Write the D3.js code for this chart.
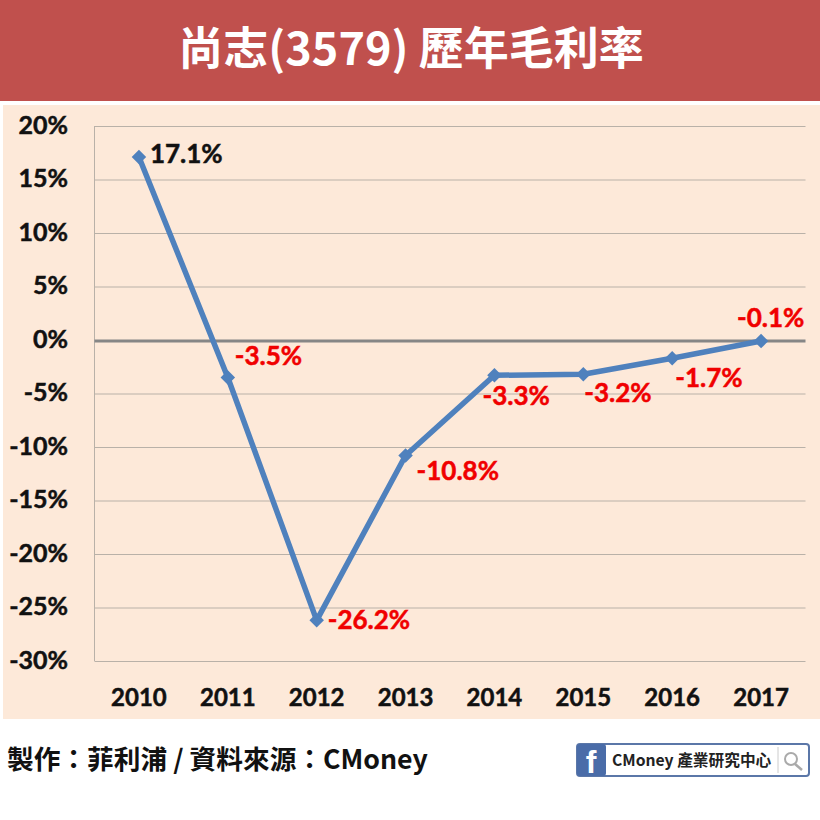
<!DOCTYPE html>
<html><head><meta charset="utf-8">
<script src="https://cdn.jsdelivr.net/npm/d3@7"></script>
<style>html,body{margin:0;padding:0;background:#fff}svg{display:block}</style>
</head><body><svg id="c" width="820" height="820"></svg>
<script>
const titleText = "尚志(3579) 歷年毛利率";
const footerText = "製作：菲利浦 / 資料來源：CMoney";
const badgeText = "CMoney 產業研究中心";
const years = ["2010","2011","2012","2013","2014","2015","2016","2017"];
const margins = [17.1,-3.5,-26.2,-10.8,-3.3,-3.2,-1.7,-0.1];
const yTicks = [20,15,10,5,0,-5,-10,-15,-20,-25,-30];

const labelDx = [11,7,11,11,-12,1,3,-24];
const labelDy = [-1,-19,2,18,23,21,22,-21];

const svg = d3.select("#c");
const latin = "Lato, 'Noto Sans CJK TC', sans-serif";
const cjk = "'Noto Sans CJK TC', sans-serif";

svg.append("rect").attr("x",0).attr("y",0).attr("width",820).attr("height",101).attr("fill","#c0504d");
svg.append("text").attr("x",411).attr("y",65).attr("text-anchor","middle")
  .attr("font-family",cjk).attr("font-weight",700).attr("font-size",45).attr("fill","#fff").text(titleText);

svg.append("rect").attr("x",3).attr("y",105).attr("width",817).attr("height",614).attr("fill","#fde9d9");

const x = d3.scaleBand().domain(years).range([94.5,805.5]);
const y = d3.scaleLinear().domain([-30,20]).range([661,126]);

const grid = svg.append("g");
grid.selectAll("line").data(yTicks.filter(d=>d!==0)).join("line")
  .attr("x1",x.range()[0]).attr("x2",x.range()[1])
  .attr("y1",d=>y(d)+.5).attr("y2",d=>y(d)+.5)
  .attr("stroke","#b9b1a8").attr("stroke-width",1);
grid.append("line").attr("x1",94.5).attr("x2",94.5).attr("y1",y(20)).attr("y2",y(-30))
  .attr("stroke","#b9b1a8");
grid.append("line").attr("x1",x.range()[0]).attr("x2",x.range()[1]).attr("y1",y(0)+1).attr("y2",y(0)+1)
  .attr("stroke","#868686").attr("stroke-width",3);

const heavy = s => s.attr("stroke","#111").attr("stroke-width",0.5);

const yAxis = svg.append("g").attr("transform","translate(68,-1)")
  .call(d3.axisLeft(y).tickValues(yTicks).tickSize(0).tickPadding(0).tickFormat(d=>d+"%"));
yAxis.select(".domain").remove();
yAxis.selectAll("text").attr("font-family",latin).attr("font-weight",700).attr("font-size",25).attr("fill","#111").call(heavy);

const xAxis = svg.append("g").attr("transform","translate(0,688.5)")
  .call(d3.axisBottom(x).tickSize(0).tickPadding(0));
xAxis.select(".domain").remove();
xAxis.selectAll("text").attr("font-family",latin).attr("font-weight",700).attr("font-size",24).attr("fill","#111").call(heavy);

const cx = d=>x(d)+x.bandwidth()/2;
const line = d3.line().x((d,i)=>cx(years[i])).y(d=>y(d));
svg.append("path").datum(margins).attr("d",line).attr("fill","none")
  .attr("stroke","#4f81bd").attr("stroke-width",5.5).attr("stroke-linejoin","round");
svg.append("g").selectAll("path").data(margins).join("path")
  .attr("d",d3.symbol(d3.symbolSquare,105))
  .attr("transform",(d,i)=>`translate(${cx(years[i])},${y(d)}) rotate(45)`)
  .attr("fill","#4f81bd");

svg.append("g").selectAll("text").data(margins).join("text")
  .attr("x",(d,i)=>cx(years[i])+labelDx[i])
  .attr("y",(d,i)=>y(d)+labelDy[i])
  .attr("dominant-baseline","middle")
  .attr("font-family",latin).attr("font-weight",700).attr("font-size",26)
  .attr("fill",d=>d<0?"#f00000":"#111")
  .attr("stroke",d=>d<0?"#f00000":"#111").attr("stroke-width",0.5)
  .text(d=>d.toFixed(1)+"%");

svg.append("text").attr("x",7).attr("y",769)
  .attr("font-family",cjk).attr("font-weight",700).attr("font-size",26.7).attr("fill","#111").text(footerText);

const b = svg.append("g");
b.append("rect").attr("x",577).attr("y",744).attr("width",232).attr("height",32).attr("rx",3).attr("fill","#fff").attr("stroke","#5b77a8").attr("stroke-width",2);
b.append("rect").attr("x",577).attr("y",744).attr("width",29).attr("height",32).attr("rx",3).attr("fill","#4a6ca8");
b.append("text").attr("x",591).attr("y",773).attr("text-anchor","middle").attr("font-family","'Liberation Sans',sans-serif").attr("font-weight",700).attr("font-size",32).attr("fill","#fff").text("f");
b.append("text").attr("x",612).attr("y",766).attr("font-family",cjk).attr("font-weight",700).attr("font-size",15.7).attr("fill","#222").text(badgeText);
b.append("line").attr("x1",778).attr("x2",778).attr("y1",747).attr("y2",773).attr("stroke","#ccc");
b.append("circle").attr("cx",791).attr("cy",759).attr("r",6).attr("fill","none").attr("stroke","#aaa").attr("stroke-width",2);
b.append("line").attr("x1",795).attr("y1",764).attr("x2",802).attr("y2",770).attr("stroke","#aaa").attr("stroke-width",2.5);
</script></body></html>
